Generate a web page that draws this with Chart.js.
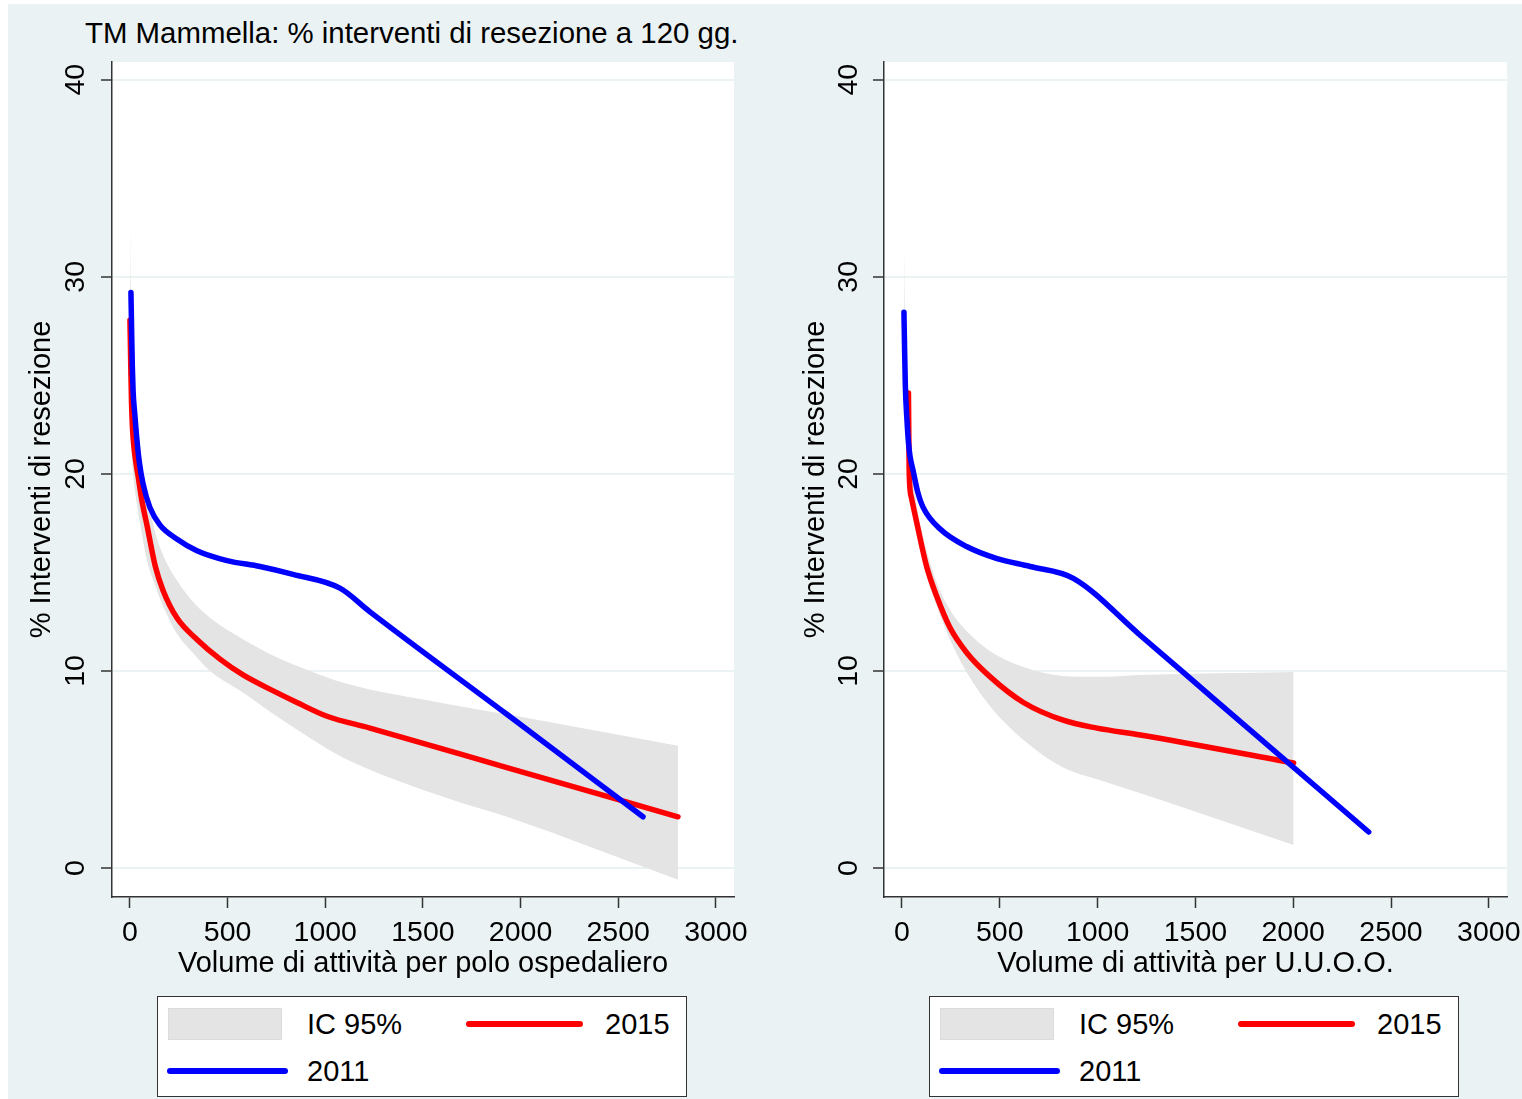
<!DOCTYPE html>
<html>
<head>
<meta charset="utf-8">
<script src="https://cdn.jsdelivr.net/npm/chart.js@4.4.1/dist/chart.umd.min.js"></script>
<style>
  html, body { margin: 0; padding: 0; background: #fff; }
  #fig { position: absolute; left: 8px; top: 4px; width: 1514px; height: 1095px; background: #EAF2F3;
         font-family: 'Liberation Sans', Arial, sans-serif; color: #000; }
  #title { position: absolute; left: 77px; top: 12px; font-size: 29.4px; line-height: 34px; white-space: nowrap; }
  canvas { position: absolute; top: 0; }
  .legend { position: absolute; top: 992px; width: 530px; height: 101px; box-sizing: border-box;
            border: 1.5px solid #333; background: #fff; font-size: 29px; }
  .legend div { position: absolute; }
  .sw-band { left: 10px; top: 11px; width: 114px; height: 32px; background: #E4E4E4; box-shadow: inset 0 0 0 1px #dcdcdc; }
  .sw-red  { left: 308px; top: 24px; width: 117px; height: 6px; background: #FF0000; border-radius: 3px; }
  .sw-blue { left: 9px; top: 71px; width: 121px; height: 6px; background: #0000FF; border-radius: 3px; }
  .lab { line-height: 34px; white-space: nowrap; }
</style>
</head>
<body>
<div id="fig">
  <div id="title">TM Mammella: % interventi di resezione a 120 gg.</div>
  <canvas id="left" width="754" height="985" style="left:0;width:754px;height:985px"></canvas>
  <canvas id="right" width="760" height="985" style="left:754px;width:760px;height:985px"></canvas>
  <div class="legend" style="left:149px">
    <div class="sw-band"></div><div class="lab" style="left:149px;top:10px">IC 95%</div>
    <div class="sw-red"></div><div class="lab" style="left:447px;top:10px">2015</div>
    <div class="sw-blue"></div><div class="lab" style="left:149px;top:57px">2011</div>
  </div>
  <div class="legend" style="left:921px">
    <div class="sw-band"></div><div class="lab" style="left:149px;top:10px">IC 95%</div>
    <div class="sw-red"></div><div class="lab" style="left:447px;top:10px">2015</div>
    <div class="sw-blue"></div><div class="lab" style="left:149px;top:57px">2011</div>
  </div>
</div>

<script>
// ── data ──
const xTicks = [0, 500, 1000, 1500, 2000, 2500, 3000];
const yTicks = [0, 10, 20, 30, 40];

// left panel: per polo ospedaliero
const polo2011X = [5, 9, 12, 16, 25, 35, 48, 67, 102, 154, 240, 343, 497, 666, 835, 1075, 1229, 1930, 2627];
const polo2011Y = [29.2, 27.0, 25.5, 24.2, 23.0, 21.8, 20.6, 19.5, 18.3, 17.4, 16.7, 16.1, 15.6, 15.3, 14.9, 14.2, 13.0, 7.8, 2.6];
const polo2015X = [0, 4, 8, 13, 20, 30, 43, 60, 87, 130, 169, 240, 343, 461, 579, 752, 855, 1009, 1229, 1930, 2806];
const polo2015Y = [27.8, 25.5, 23.6, 22.3, 21.4, 20.6, 19.8, 18.7, 17.4, 15.3, 14.1, 12.7, 11.6, 10.6, 9.8, 8.9, 8.4, 7.7, 7.1, 5.1, 2.6];
const poloBandX  = [0, 4, 8, 13, 20, 30, 43, 60, 87, 130, 169, 240, 324, 410, 580, 751, 922, 1092, 1638, 1930, 2806];
const poloBandHi = [32.8, 29.5, 27.0, 25.0, 23.8, 22.8, 21.8, 20.4, 18.9, 17.0, 15.9, 14.6, 13.5, 12.7, 11.6, 10.7, 10.0, 9.4, 8.3, 7.8, 6.2];
const poloBandLo = [24.5, 22.5, 21.2, 20.3, 19.6, 18.8, 18.0, 17.0, 15.6, 14.3, 13.3, 11.9, 10.9, 10.0, 8.9, 7.7, 6.6, 5.6, 3.5, 2.6, -0.6];

// right panel: per U.U.O.O.
const uoo2011X = [10, 13, 17, 25, 33, 41, 56, 80, 108, 195, 333, 486, 655, 876, 1219, 1593, 2386];
const uoo2011Y = [28.2, 26.5, 24.5, 22.8, 21.6, 20.9, 20.2, 19.1, 18.3, 17.2, 16.3, 15.7, 15.3, 14.7, 11.8, 8.6, 1.83];
const uoo2015X = [33, 35, 37, 48, 76, 126, 177, 245, 333, 451, 621, 824, 997, 1219, 2002];
const uoo2015Y = [24.1, 21.8, 20.0, 18.8, 17.5, 15.3, 13.8, 12.2, 10.9, 9.7, 8.4, 7.5, 7.1, 6.75, 5.33];
const uooBandX  = [10, 14, 20, 28, 36, 50, 76, 108, 126, 177, 245, 333, 451, 621, 824, 997, 1219, 2002];
const uooBandHi = [31.7, 28.5, 26.0, 24.5, 23.0, 20.8, 18.4, 16.8, 16.1, 14.5, 13.1, 12.0, 11.0, 10.2, 9.75, 9.7, 9.8, 9.95];
const uooBandLo = [24.0, 23.0, 22.0, 21.2, 20.2, 18.4, 16.8, 15.5, 14.8, 13.3, 11.6, 9.9, 8.2, 6.5, 5.1, 4.5, 3.8, 1.17];

const FONT = "'Liberation Sans', Arial, sans-serif";
const BLUE = '#0000FF', RED = '#FF0000', BAND = '#E4E4E4';
const AXIS = '#333333', GRID = '#EAF2F3';

const pts = (xs, ys) => xs.map((x, i) => ({ x, y: ys[i] }));

// white plot region
const plotBg = {
  id: 'plotBg',
  beforeDraw(chart) {
    const a = chart.chartArea, ctx = chart.ctx;
    ctx.save();
    ctx.fillStyle = '#fff';
    ctx.fillRect(a.left, a.top, a.right - a.left, a.bottom - a.top);
    ctx.restore();
  }
};

function lineSet(label, data, color) {
  return { label, data, borderColor: color, borderWidth: 5.5, fill: false,
           pointRadius: 0, cubicInterpolationMode: 'monotone',
           borderCapStyle: 'round', borderJoinStyle: 'round' };
}

function makeChart(id, c) {
  return new Chart(document.getElementById(id), {
    type: 'line',
    data: {
      datasets: [
        lineSet('2011', pts(c.x11, c.y11), BLUE),
        lineSet('2015', pts(c.x15, c.y15), RED),
        { label: 'IC 95%', data: pts(c.bx, c.bhi), borderWidth: 0, borderColor: 'rgba(0,0,0,0)',
          backgroundColor: BAND, fill: '+1', pointRadius: 0, cubicInterpolationMode: 'monotone' },
        { label: 'lo', data: pts(c.bx, c.blo), borderWidth: 0, borderColor: 'rgba(0,0,0,0)',
          fill: false, pointRadius: 0, cubicInterpolationMode: 'monotone' }
      ]
    },
    options: {
      responsive: false,
      animation: false,
      layout: { padding: { top: 58, right: c.padRight, left: 0, bottom: 0 } },
      plugins: { legend: { display: false }, tooltip: { enabled: false } },
      scales: {
        x: {
          type: 'linear', min: -92, max: 3093,
          afterBuildTicks: s => { s.ticks = xTicks.map(v => ({ value: v })); },
          afterFit: s => { s.height = 92; s.paddingLeft = 0; s.paddingRight = 0; },
          grid: { drawOnChartArea: false, tickLength: 11, tickColor: AXIS, tickWidth: 1.5 },
          border: { display: true, color: AXIS, width: 1.5 },
          ticks: { color: '#000', font: { size: 28.5, family: FONT }, padding: 8, maxRotation: 0,
                   callback: v => String(v) },
          title: { display: true, text: c.xTitle, color: '#000', font: { size: 29, family: FONT },
                   padding: { top: 0, bottom: 8 } }
        },
        y: {
          type: 'linear', min: -1.47, max: 40.9,
          afterBuildTicks: s => { s.ticks = yTicks.map(v => ({ value: v })); },
          afterFit: s => { s.width = c.yWidth; s.paddingTop = 0; s.paddingBottom = 0; },
          grid: { color: GRID, lineWidth: 2, tickLength: 11, tickColor: AXIS, tickWidth: 1.5 },
          border: { display: true, color: AXIS, width: 1.5 },
          ticks: { color: '#000', font: { size: 28.5, family: FONT }, padding: c.yTickPad,
                   minRotation: 90, maxRotation: 90, crossAlign: 'center', callback: v => String(v) },
          title: { display: true, text: '% Interventi di resezione', color: '#000',
                   font: { size: 29, family: FONT }, padding: { top: c.yTitlePad, bottom: 0 } }
        }
      }
    },
    plugins: [plotBg]
  });
}

makeChart('left', {
  x11: polo2011X, y11: polo2011Y, x15: polo2015X, y15: polo2015Y,
  bx: poloBandX, bhi: poloBandHi, blo: poloBandLo,
  xTitle: 'Volume di attività per polo ospedaliero',
  padRight: 28, yWidth: 104, yTickPad: 9, yTitlePad: 16.6
});

makeChart('right', {
  x11: uoo2011X, y11: uoo2011Y, x15: uoo2015X, y15: uoo2015Y,
  bx: uooBandX, bhi: uooBandHi, blo: uooBandLo,
  xTitle: 'Volume di attività per U.U.O.O.',
  padRight: 15, yWidth: 122, yTickPad: 8, yTitlePad: 36.6
});
</script>
</body>
</html>
